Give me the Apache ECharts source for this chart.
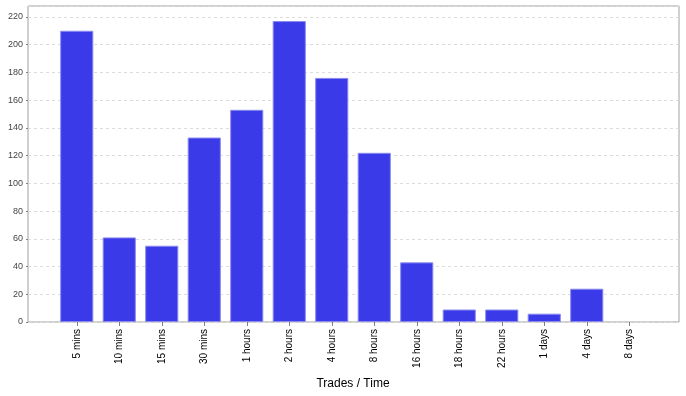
<!DOCTYPE html>
<html><head><meta charset="utf-8">
<script src="https://cdn.jsdelivr.net/npm/echarts@6/dist/echarts.min.js"></script>
<style>html,body{margin:0;padding:0;background:#fff}#c{width:686px;height:396px}</style>
</head><body><div id="c"></div>
<script>
const categories = ["5 mins","10 mins","15 mins","30 mins","1 hours","2 hours","4 hours","8 hours","16 hours","18 hours","22 hours","1 days","4 days","8 days"];
const trades = [210,61,55,133,153,217,176,122,43,9,9,6,24,0];
const yTicks = [0,20,40,60,80,100,120,140,160,180,200,220];
const yMax = 227.85;

const barData = trades.map(function(v){
  return v === 0 ? {value:v, itemStyle:{borderWidth:0, opacity:0}} : v;
});

const chart = echarts.init(document.getElementById('c'), null, {renderer:'canvas'});
chart.setOption({
  animation:false,
  grid:[
    {left:28, right:7, top:6, bottom:74, show:true, borderColor:'#a0a0a0', borderWidth:1, backgroundColor:'#fff', outerBoundsMode:'none', containLabel:false},
    {left:55.5, right:35.5, top:6, bottom:74, outerBoundsMode:'none', containLabel:false}
  ],
  xAxis:[
    {gridIndex:0, type:'value', show:false, min:0, max:1},
    {gridIndex:1, type:'category', data:categories, boundaryGap:true,
     axisLine:{show:false},
     axisTick:{show:true, alignWithLabel:true, length:4, lineStyle:{color:'#808080'}},
     axisLabel:{rotate:90, fontSize:10, color:'#000', fontFamily:'Liberation Sans, Arial, sans-serif', margin:7, interval:0},
     name:'Trades / Time', nameLocation:'middle', nameGap:56,
     nameTextStyle:{fontSize:12, color:'#000', fontFamily:'Liberation Sans, Arial, sans-serif'}}
  ],
  yAxis:[
    {gridIndex:0, type:'value', min:0, max:yMax, interval:20,
     axisLine:{show:false}, axisTick:{show:true, length:2, lineStyle:{color:'#808080'}},
     axisLabel:{fontSize:9, color:'#444', fontFamily:'Liberation Sans, Arial, sans-serif', margin:5,
       formatter:function(v){return yTicks.indexOf(v)>=0 ? String(v) : '';}, showMaxLabel:false},
     splitLine:{show:true, lineStyle:{color:'#dcdcdc', type:[3,3], width:1}}},
    {gridIndex:1, type:'value', min:0, max:yMax, show:false, splitLine:{show:false}}
  ],
  series:[{
    type:'bar', xAxisIndex:1, yAxisIndex:1, data:barData, barWidth:'78%',
    itemStyle:{color:'#3a3ae8', borderColor:'#8a8af0', borderWidth:1}
  }]
});
</script></body></html>
